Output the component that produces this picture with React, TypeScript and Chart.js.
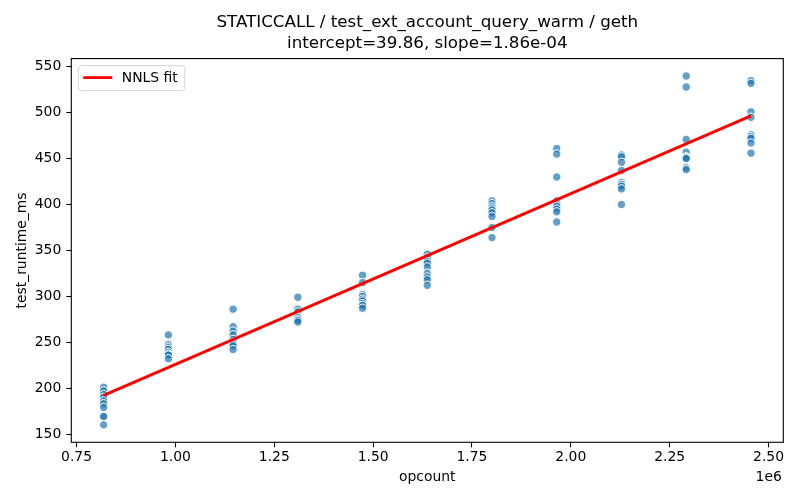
import React, { useEffect, useRef } from "react";
import { Chart, registerables } from "chart.js";

Chart.register(...registerables);

const TITLE_LINES = [
  "STATICCALL / test_ext_account_query_warm / geth",
  "intercept=39.86, slope=1.86e-04",
];
const X_LABEL = "opcount";
const Y_LABEL = "test_runtime_ms";
const X_OFFSET_TEXT = "1e6";
const FIT_LABEL = "NNLS fit";
const INTERCEPT = 39.86;
const SLOPE = 1.86e-4;

const OPCOUNTS = [
  818500, 982200, 1145900, 1309600, 1473300, 1637000, 1800700, 1964400,
  2128100, 2291800, 2455500,
];

const RUNTIMES: number[][] = [
  [201, 197, 193, 190, 186, 183, 179, 170, 169, 160],
  [258, 248, 246, 244, 242, 239, 237, 236, 232],
  [286, 267, 262, 258, 253, 250, 248, 246, 242],
  [299, 286, 283, 278, 277, 275, 274, 272],
  [323, 315, 302, 300, 297, 295, 292, 290, 287],
  [346, 342, 338, 336, 332, 325, 321, 318, 312],
  [404, 401, 398, 396, 394, 391, 387, 375, 364],
  [461, 455, 430, 404, 400, 398, 395, 392, 381],
  [454, 452, 446, 437, 424, 422, 420, 417, 400],
  [540, 528, 471, 457, 452, 451, 450, 440, 438],
  [535, 532, 501, 495, 476, 474, 472, 467, 456],
];

const X_TICKS = [750000, 1000000, 1250000, 1500000, 1750000, 2000000, 2250000, 2500000];
const Y_TICKS = [150, 200, 250, 300, 350, 400, 450, 500, 550];

const FONT = "DejaVu Sans";
const TICK_SIZE = 13.9;

export default function App() {
  const ref = useRef<HTMLCanvasElement | null>(null);

  useEffect(() => {
    if (!ref.current) return;
    const points = OPCOUNTS.flatMap((x, i) => RUNTIMES[i].map((y) => ({ x, y })));
    const xs = points.map((p) => p.x);
    const ys = points.map((p) => p.y);
    const xMinD = Math.min(...xs);
    const xMaxD = Math.max(...xs);
    const yMinD = Math.min(...ys);
    const yMaxD = Math.max(...ys);
    const xr = xMaxD - xMinD;
    const yr = yMaxD - yMinD;

    const fit = [
      { x: xMinD, y: INTERCEPT + SLOPE * xMinD },
      { x: xMaxD, y: INTERCEPT + SLOPE * xMaxD },
    ];

    const framePlugin = {
      id: "frame",
      afterDraw(chart: any) {
        const { ctx, chartArea: a } = chart;
        ctx.save();
        ctx.strokeStyle = "#000";
        ctx.lineWidth = 1.1;
        ctx.strokeRect(a.left, a.top, a.right - a.left, a.bottom - a.top);
        // offset text
        ctx.fillStyle = "#000";
        ctx.font = `${TICK_SIZE}px "${FONT}"`;
        ctx.textAlign = "right";
        ctx.textBaseline = "middle";
        ctx.fillText(X_OFFSET_TEXT, a.right - 1.5, 477);
        // legend
        const lx = a.left + 7;
        const ly = a.top + 7;
        const lw = 106.5;
        const lh = 25;
        ctx.beginPath();
        if ((ctx as any).roundRect) (ctx as any).roundRect(lx, ly, lw, lh, 3);
        else ctx.rect(lx, ly, lw, lh);
        ctx.fillStyle = "rgba(255,255,255,0.8)";
        ctx.fill();
        ctx.strokeStyle = "#d6d6d6";
        ctx.lineWidth = 1;
        ctx.stroke();
        ctx.beginPath();
        ctx.strokeStyle = "#ff0000";
        ctx.lineWidth = 2.8;
        ctx.moveTo(lx + 5, ly + 12);
        ctx.lineTo(lx + 34, ly + 12);
        ctx.stroke();
        ctx.fillStyle = "#000";
        ctx.textAlign = "left";
        ctx.textBaseline = "middle";
        ctx.fillText(FIT_LABEL, lx + 43.5, ly + 12.5);
        ctx.restore();
      },
    };

    const chart = new Chart(ref.current, {
      type: "scatter",
      data: {
        datasets: [
          {
            type: "line",
            label: FIT_LABEL,
            data: fit,
            borderColor: "#ff0000",
            borderWidth: 2.8,
            pointRadius: 0,
            fill: false,
            order: 0,
          } as any,
          {
            label: "runs",
            data: points,
            backgroundColor: "rgba(31,119,180,0.7)",
            borderColor: "#ffffff",
            borderWidth: 1,
            pointRadius: 4.2,
            pointHoverRadius: 4.2,
            order: 1,
          },
        ],
      },
      options: {
        animation: false,
        responsive: false,
        devicePixelRatio: 1,
        layout: { padding: { left: 0, right: 16.7, top: 0, bottom: 0 } },
        plugins: {
          legend: { display: false },
          tooltip: { enabled: false },
          title: {
            display: true,
            fullSize: false,
            text: TITLE_LINES,
            color: "#000",
            font: { family: FONT, size: 16.7, weight: "normal", lineHeight: 1.257 },
            padding: { top: 12.5, bottom: 4.1 },
          },
        },
        scales: {
          x: {
            type: "linear",
            min: xMinD - 0.05 * xr,
            max: xMaxD + 0.05 * xr,
            afterFit(scale: any) {
              scale.height = 57.7;
            },
            afterBuildTicks(scale: any) {
              scale.ticks = X_TICKS.map((v) => ({ value: v }));
            },
            ticks: {
              color: "#000",
              font: { family: FONT, size: TICK_SIZE },
              padding: 1.5,
              maxRotation: 0,
              autoSkip: false,
              callback: (v: any) => (Number(v) / 1e6).toFixed(2),
            },
            grid: {
              display: true,
              drawOnChartArea: false,
              drawTicks: true,
              tickLength: 5,
              tickColor: "#000",
              tickWidth: 1.1,
            },
            border: { display: false },
            title: {
              display: true,
              text: X_LABEL,
              color: "#000",
              font: { family: FONT, size: TICK_SIZE },
              padding: { top: 0, bottom: 14.4 },
            },
          },
          y: {
            type: "linear",
            min: yMinD - 0.05 * yr,
            max: yMaxD + 0.05 * yr,
            afterFit(scale: any) {
              scale.width = 71.3;
            },
            afterBuildTicks(scale: any) {
              scale.ticks = Y_TICKS.map((v) => ({ value: v }));
            },
            ticks: {
              color: "#000",
              font: { family: FONT, size: TICK_SIZE },
              padding: 5,
              autoSkip: false,
              callback: (v: any) => String(v),
            },
            grid: {
              display: true,
              drawOnChartArea: false,
              drawTicks: true,
              tickLength: 5,
              tickColor: "#000",
              tickWidth: 1.1,
            },
            border: { display: false },
            title: {
              display: true,
              text: Y_LABEL,
              color: "#000",
              font: { family: FONT, size: TICK_SIZE },
              padding: { top: 13.6, bottom: 0 },
            },
          },
        },
      },
      plugins: [framePlugin],
    });

    return () => chart.destroy();
  }, []);

  return (
    <div style={{ position: "absolute", left: 0, top: 0, width: 800, height: 500, background: "#fff" }}>
      <canvas ref={ref} width={800} height={500} style={{ display: "block" }} />
    </div>
  );
}
